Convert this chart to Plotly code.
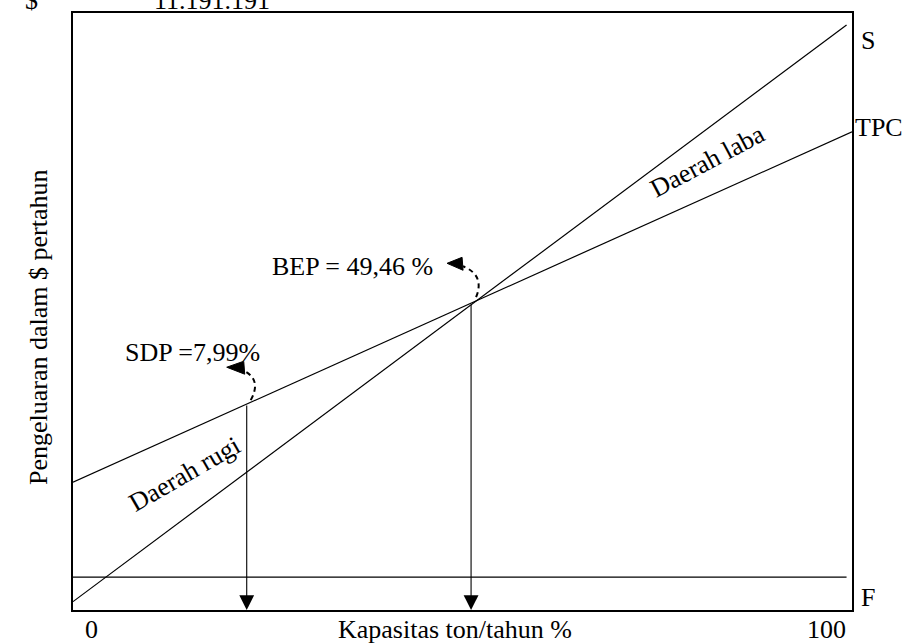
import numpy as np
import plotly.graph_objects as go

# ---------------- data ----------------
cap_line = [0, 99.3]          # capacity % (start / end of S and F lines)
cap_tpc = [0, 100]            # capacity % for TPC line
S_vals = [1.4, 98.0]          # sales
TPC_vals = [21.4, 80.1]       # total production cost
F_vals = [5.5, 5.5]           # fixed cost
sdp_x = 22.3                  # shut down point (capacity %)
bep_x = 51.1                  # break even point (capacity %)
tick_vals = [0, 100]
tick_labels = ["0", "100"]
line_labels = ["S", "TPC", "F"]

# ---------------- geometry helpers ----------------
W, H = 909, 644
L, R, T, B = 73, 57, 11, 34
PW, PH = W - L - R, H - T - B
FONT = "Liberation Serif"
FS = 26


def dx(px):
    return px / PW * 100


def dy(py):
    return -py / PH * 100


def px2paper(px, py):
    return (px - L) / PW, (T + PH - py) / PH


fig = go.Figure()
for xs, ys in [(cap_line, S_vals), (cap_tpc, TPC_vals), (cap_line, F_vals)]:
    fig.add_trace(go.Scatter(x=xs, y=ys, mode="lines",
                             line=dict(color="black", width=1.2),
                             showlegend=False, hoverinfo="skip"))

sdp_y = float(np.interp(sdp_x, cap_tpc, TPC_vals))
bep_y = float(np.interp(bep_x, cap_tpc, TPC_vals))

annotations = []
shapes = []
# vertical arrows down to the capacity axis
for xv, yv in [(sdp_x, sdp_y), (bep_x, bep_y)]:
    annotations.append(dict(x=xv, y=0, ax=xv, ay=yv, xref="x", yref="y",
                            axref="x", ayref="y", text="", showarrow=True,
                            arrowhead=2, arrowsize=2.7, arrowwidth=1.1,
                            arrowcolor="black"))


def callout(x0, y0, pts, tip, rear_top, rear_bot):
    (sx, sy), (cx, cy), (ex, ey) = pts
    path = (f"M {x0 + dx(sx)},{y0 + dy(sy)} Q {x0 + dx(cx)},{y0 + dy(cy)} "
            f"{x0 + dx(ex)},{y0 + dy(ey)}")
    shapes.append(dict(type="path", path=path, xref="x", yref="y",
                       line=dict(color="black", width=2, dash="5px,4px")))
    tri = (f"M {x0 + dx(tip[0])},{y0 + dy(tip[1])} "
           f"L {x0 + dx(rear_top[0])},{y0 + dy(rear_top[1])} "
           f"L {x0 + dx(rear_bot[0])},{y0 + dy(rear_bot[1])} Z")
    shapes.append(dict(type="path", path=tri, xref="x", yref="y",
                       fillcolor="black", line=dict(color="black", width=1)))


callout(sdp_x, sdp_y, [(4, -4), (15, -24), (-2, -33)], (-20, -37), (-3, -43), (-2, -30))
callout(bep_x, bep_y, [(5, -6), (14, -28), (-8, -37)], (-24, -40), (-9, -46), (-8, -33))


def label(px, py, text, angle=0, yanchor="middle", yshift=0):
    x, y = px2paper(px, py)
    annotations.append(dict(x=x, y=y, xref="paper", yref="paper", text=text,
                            xanchor="center", yanchor=yanchor, yshift=yshift,
                            textangle=angle, showarrow=False,
                            font=dict(family=FONT, size=FS, color="black")))


# line labels at right
label(868, 39, line_labels[0])
label(879, 126, line_labels[1])
label(868, 597, line_labels[2])
# tick labels
for v, lab, shift in zip(tick_vals, tick_labels, [18, -26]):
    annotations.append(dict(x=v, y=px2paper(0, 630)[1], xref="x", yref="paper",
                            xshift=shift, text=lab, xanchor="center", yanchor="middle",
                            showarrow=False, font=dict(family=FONT, size=FS, color="black")))
# axis titles
label(455, 630, "Kapasitas ton/tahun %")
label(39, 326, "Pengeluaran dalam $ pertahun", angle=-90)
# region labels
label(707, 160, "Daerah laba", angle=-28)
label(184, 474, "Daerah rugi", angle=-30)
# point labels
label(352, 265, "BEP = 49,46 %")
label(192, 352, "SDP =7,99%")
# cut-off text above the frame
label(31, 11, "$", yanchor="bottom", yshift=-4)
label(212, 11, "11.191.191", yanchor="bottom", yshift=-4)

axis = dict(range=[0, 100], showgrid=False, zeroline=False, showticklabels=False,
            ticks="", showline=True, mirror=True, linecolor="black", linewidth=2)
fig.update_layout(width=W, height=H, margin=dict(l=L, r=R, t=T, b=B),
                  plot_bgcolor="white", paper_bgcolor="white",
                  xaxis=axis, yaxis=axis, annotations=annotations, shapes=shapes,
                  showlegend=False)
fig.write_html("out.html", config={"displayModeBar": False},
               post_script="document.body.style.margin='0';document.body.style.overflow='hidden';")
